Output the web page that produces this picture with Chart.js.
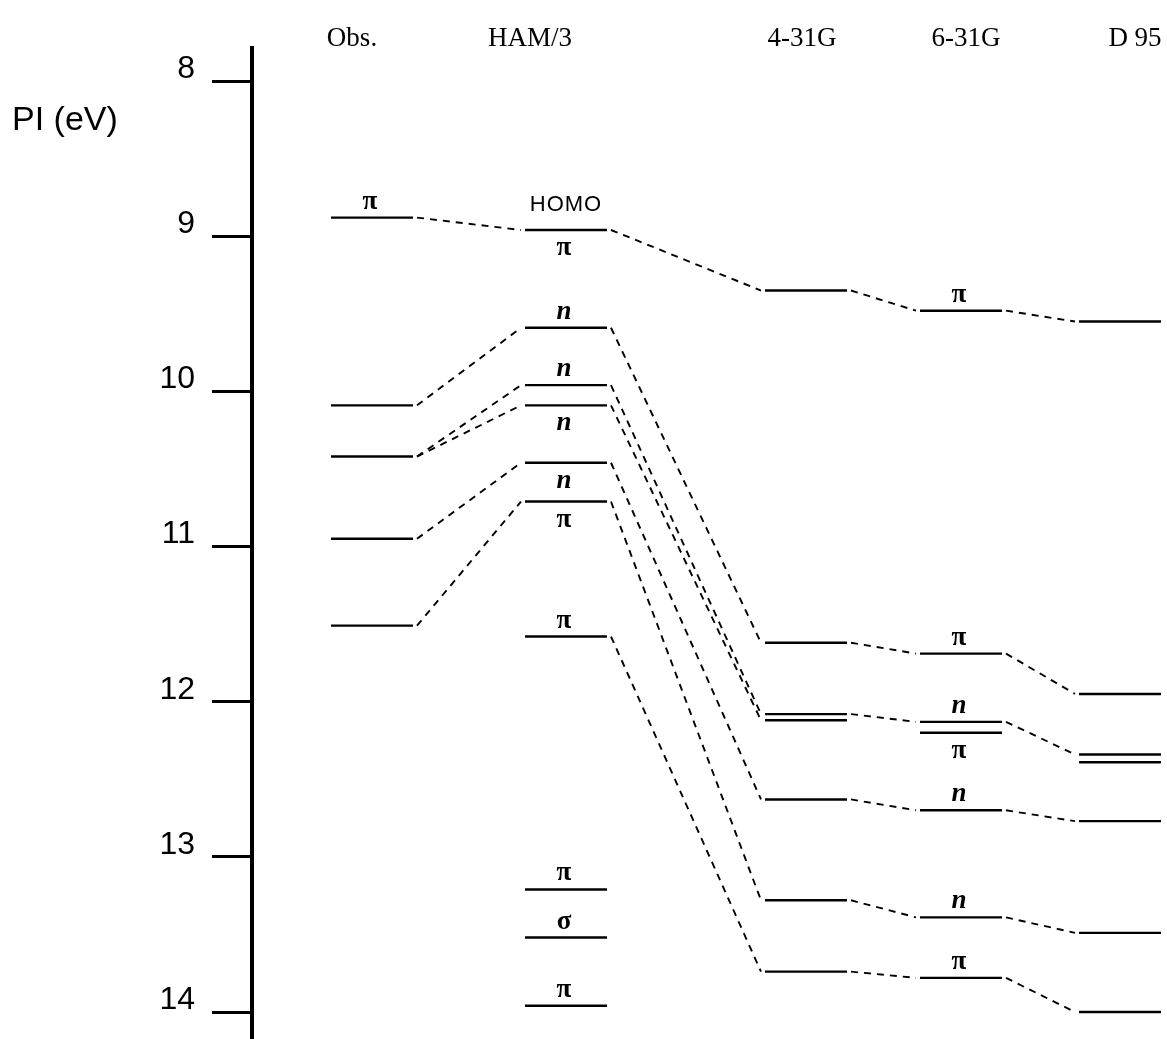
<!DOCTYPE html>
<html>
<head>
<meta charset="utf-8">
<script src="https://cdn.jsdelivr.net/npm/chart.js@4.4.0/dist/chart.umd.min.js"></script>
<style>
  body { margin: 0; background: #fff; }
  #box { width: 1167px; height: 1039px; position: relative; }
</style>
</head>
<body>
<div id="box"><canvas id="grafico"></canvas></div>
<script>
// colunas do diagrama
const columns = ['Obs.', 'HAM/3', '4-31G', '6-31G', 'D 95'];

// niveis de energia (PI em eV)
const obsLevels = [8.88, 10.09, 10.42, 10.95, 11.51];
const hamLevels = [8.96, 9.59, 9.96, 10.09, 10.46, 10.71, 11.58, 13.21, 13.52, 13.96];
const g431Levels = [9.35, 11.62, 12.08, 12.12, 12.63, 13.28, 13.74];
const g631Levels = [9.48, 11.69, 12.13, 12.20, 12.70, 13.39, 13.78];
const d95Levels = [9.55, 11.95, 12.34, 12.39, 12.77, 13.49, 14.00];

// rotulos dos orbitais
const obsLabels = ['π', '', '', '', ''];
const hamLabels = ['π', 'n', 'n', 'n', 'n', 'π', 'π', 'π', 'σ', 'π'];
const g431Labels = ['', '', '', '', '', '', ''];
const g631Labels = ['π', 'π', 'n', 'π', 'n', 'n', 'π'];
const d95Labels = ['', '', '', '', '', '', ''];

// correlacoes tracejadas: [coluna, nivel, coluna, nivel]
const links = [
  [0, 0, 1, 0], [0, 1, 1, 1], [0, 2, 1, 2], [0, 2, 1, 3], [0, 3, 1, 4], [0, 4, 1, 5],
  [1, 0, 2, 0], [1, 1, 2, 1], [1, 2, 2, 2], [1, 3, 2, 3], [1, 4, 2, 4], [1, 5, 2, 5], [1, 6, 2, 6],
  [2, 0, 3, 0], [2, 1, 3, 1], [2, 2, 3, 2], [2, 4, 3, 4], [2, 5, 3, 5], [2, 6, 3, 6],
  [3, 0, 4, 0], [3, 1, 4, 1], [3, 2, 4, 2], [3, 4, 4, 4], [3, 5, 4, 5], [3, 6, 4, 6]
];

const yTicks = [8, 9, 10, 11, 12, 13, 14];

// layout
const colCenter = [120, 314, 554, 709, 868];
const headerX = [352, 530, 802, 966, 1135];
const halfW = 41;
const gap = 4;
const hamSide = ['below', 'above', 'above', 'below', 'below', 'below', 'above', 'above', 'above', 'above'];
const g631Side = ['above', 'above', 'above', 'below', 'above', 'above', 'above'];
const sideOf = [null, hamSide, null, g631Side, null];

const levelSets = [obsLevels, hamLevels, g431Levels, g631Levels, d95Levels];
const labelSets = [obsLabels, hamLabels, g431Labels, g631Labels, d95Labels];

const datasets = [];
levelSets.forEach((levels, c) => {
  levels.forEach(e => {
    datasets.push({
      data: [{x: colCenter[c] - halfW, y: e}, {x: colCenter[c] + halfW, y: e}],
      borderColor: '#000', borderWidth: 2.4, pointRadius: 0, showLine: true
    });
  });
});
links.forEach(([c1, i1, c2, i2]) => {
  datasets.push({
    data: [
      {x: colCenter[c1] + halfW + gap, y: levelSets[c1][i1]},
      {x: colCenter[c2] - halfW - gap, y: levelSets[c2][i2]}
    ],
    borderColor: '#000', borderWidth: 1.9, borderDash: [7, 6], pointRadius: 0, showLine: true
  });
});

const textos = {
  id: 'textos',
  afterDatasetsDraw(chart) {
    const ctx = chart.ctx;
    const xs = chart.scales.x, ys = chart.scales.y;
    ctx.save();
    ctx.fillStyle = '#000';
    ctx.textAlign = 'center';
    ctx.textBaseline = 'alphabetic';

    // cabecalhos
    ctx.font = '27px "Liberation Serif"';
    columns.forEach((t, c) => ctx.fillText(t, headerX[c], 46));

    // titulo do eixo
    ctx.textAlign = 'left';
    ctx.font = '34px "Liberation Sans"';
    ctx.fillText('PI (eV)', 12, 130);

    // rotulos dos niveis
    ctx.textAlign = 'center';
    labelSets.forEach((labels, c) => {
      labels.forEach((lab, i) => {
        if (!lab) return;
        const side = sideOf[c] ? sideOf[c][i] : 'above';
        const px = xs.getPixelForValue(colCenter[c]);
        const py = ys.getPixelForValue(levelSets[c][i]);
        ctx.font = lab === 'n' ? 'italic bold 27px "Liberation Serif"' : 'bold 27px "Liberation Serif"';
        ctx.fillText(lab, px - 2, side === 'above' ? py - 9 : py + 25);
      });
    });

    // HOMO
    ctx.font = '22px "Liberation Sans"';
    ctx.letterSpacing = '1px';
    ctx.fillText('HOMO', xs.getPixelForValue(colCenter[1]), ys.getPixelForValue(hamLevels[0]) - 19);
    ctx.restore();
  }
};

const grafico = new Chart(document.getElementById('grafico').getContext('2d'), {
  type: 'scatter',
  data: { datasets: datasets },
  options: {
    responsive: true,
    maintainAspectRatio: false,
    animation: false,
    layout: { padding: { top: 48, bottom: 0, left: 0, right: 0 } },
    plugins: { legend: { display: false }, tooltip: { enabled: false } },
    scales: {
      x: { type: 'linear', display: false, min: 0, max: 915 },
      y: {
        type: 'linear',
        reverse: true,
        min: 7.787,
        max: 14.174,
        afterBuildTicks: s => { s.ticks = yTicks.map(v => ({value: v})); },
        afterFit: s => { s.width = 252; s.paddingTop = 0; s.paddingBottom = 0; },
        border: { display: true, color: '#000', width: 4 },
        grid: { drawOnChartArea: false, drawTicks: true, tickLength: 40, tickWidth: 3, tickColor: '#000' },
        ticks: {
          color: '#000',
          padding: 17,
          labelOffset: -12,
          font: { family: '"Liberation Sans"', size: 32 }
        }
      }
    }
  },
  plugins: [textos]
});
</script>
</body>
</html>
